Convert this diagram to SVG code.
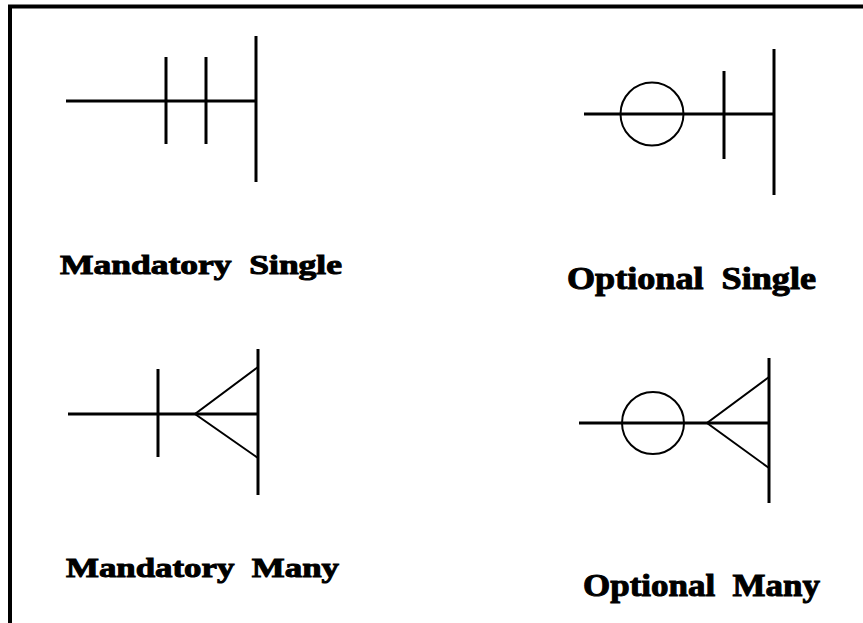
<svg xmlns="http://www.w3.org/2000/svg" width="863" height="623" viewBox="0 0 863 623">
<style>
.ln{stroke:#000;stroke-width:3;fill:none;stroke-linecap:butt}
.th{stroke:#000;stroke-width:2;fill:none}
.lbl{font-family:"Liberation Serif","Times New Roman",serif;font-weight:bold;fill:#000;stroke:#000;stroke-width:1}
</style>
<rect width="863" height="623" fill="#fff"/>
<g id="frame">
<path d="M10,623 V6.5 H863" stroke="#000" stroke-width="4" fill="none"/>
</g>
<g id="connectors">
<g id="mandatory-single">
<line class="ln" x1="66" y1="101" x2="256" y2="101"/>
<line class="ln" x1="166" y1="57" x2="166" y2="144"/>
<line class="ln" x1="206" y1="57" x2="206" y2="144"/>
<line class="ln" x1="256" y1="36" x2="256" y2="182"/>
</g>
<g id="optional-single">
<line class="ln" x1="584" y1="114" x2="774" y2="114"/>
<circle class="th" cx="652" cy="114" r="31.5"/>
<line class="ln" x1="724" y1="71" x2="724" y2="159"/>
<line class="ln" x1="774" y1="49" x2="774" y2="195"/>
</g>
<g id="mandatory-many">
<line class="ln" x1="68" y1="414" x2="258" y2="414"/>
<line class="ln" x1="158" y1="369" x2="158" y2="457"/>
<polyline class="th" points="258,367 195,414 258,458"/>
<line class="ln" x1="258" y1="349" x2="258" y2="495"/>
</g>
<g id="optional-many">
<line class="ln" x1="579" y1="423" x2="769" y2="423"/>
<circle class="th" cx="653" cy="423" r="31"/>
<polyline class="th" points="769,377 707,423 769,468"/>
<line class="ln" x1="769" y1="358" x2="769" y2="503"/>
</g>
</g>
<g id="labels">
<text id="t-ms" class="lbl" x="60" y="274" font-size="28" textLength="282" lengthAdjust="spacingAndGlyphs" xml:space="preserve">Mandatory  Single</text>
<text id="t-os" class="lbl" x="567" y="289" font-size="32" textLength="249" lengthAdjust="spacingAndGlyphs" xml:space="preserve">Optional  Single</text>
<text id="t-mm" class="lbl" x="66" y="577" font-size="28" textLength="273" lengthAdjust="spacingAndGlyphs" xml:space="preserve">Mandatory  Many</text>
<text id="t-om" class="lbl" x="583" y="596" font-size="32" textLength="237" lengthAdjust="spacingAndGlyphs" xml:space="preserve">Optional  Many</text>
</g>
</svg>
